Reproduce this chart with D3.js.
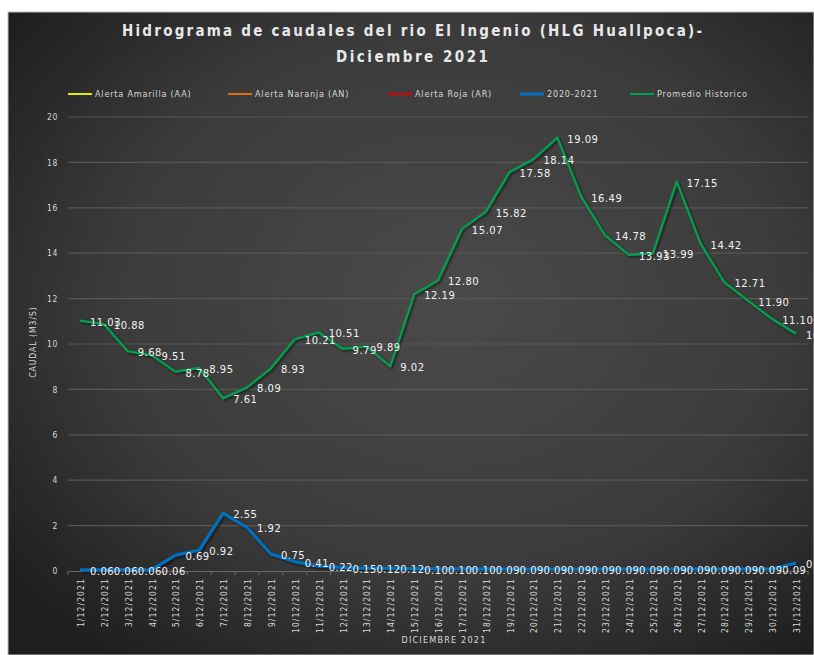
<!DOCTYPE html>
<html><head><meta charset="utf-8">
<script src="https://cdn.jsdelivr.net/npm/d3@7/dist/d3.min.js"></script>
<style>body{margin:0;background:#ffffff}svg{display:block}</style>
</head>
<body><svg id="chart" width="814" height="655"></svg>
<script>
// ---- DATA ----
const categories = ["1/12/2021","2/12/2021","3/12/2021","4/12/2021","5/12/2021","6/12/2021","7/12/2021","8/12/2021","9/12/2021","10/12/2021","11/12/2021","12/12/2021","13/12/2021","14/12/2021","15/12/2021","16/12/2021","17/12/2021","18/12/2021","19/12/2021","20/12/2021","21/12/2021","22/12/2021","23/12/2021","24/12/2021","25/12/2021","26/12/2021","27/12/2021","28/12/2021","29/12/2021","30/12/2021","31/12/2021"];
const promedioHistorico = [11.03,10.88,9.68,9.51,8.78,8.95,7.61,8.09,8.93,10.21,10.51,9.79,9.89,9.02,12.19,12.80,15.07,15.82,17.58,18.14,19.09,16.49,14.78,13.93,13.99,17.15,14.42,12.71,11.90,11.10,10.45];
const serie2020_2021 = [0.06,0.06,0.06,0.06,0.69,0.92,2.55,1.92,0.75,0.41,0.22,0.15,0.12,0.12,0.10,0.10,0.10,0.09,0.09,0.09,0.09,0.09,0.09,0.09,0.09,0.09,0.09,0.09,0.09,0.09,0.35];
const alertaAmarilla = [];
const alertaNaranja = [];
const alertaRoja = [];
const yTicks = [0,2,4,6,8,10,12,14,16,18,20];
const legendNames = ["Alerta Amarilla (AA)","Alerta Naranja (AN)","Alerta Roja (AR)","2020-2021","Promedio Historico"];
const legendColors = ["#e6e600","#e36c0a","#e00000","#0070c0","#00a050"];
const titleLines = ["Hidrograma de caudales del rio El Ingenio (HLG Huallpoca)-","Diciembre 2021"];
const yAxisTitle = "CAUDAL (M3/S)";
const xAxisTitle = "DICIEMBRE 2021";

// ---- LAYOUT ----
const W = 814, H = 655;
const plot = {left: 68, right: 808, top: 117, bottom: 571};
const FONT = "'DejaVu Sans Condensed','DejaVu Sans',sans-serif";

const svg = d3.select("#chart");
const defs = svg.append("defs");
const grad = defs.append("radialGradient").attr("id","bg")
  .attr("cx","55%").attr("cy","45%").attr("r","70%");
grad.append("stop").attr("offset","0%").attr("stop-color","#4a4a4a");
grad.append("stop").attr("offset","60%").attr("stop-color","#3b3b3b");
grad.append("stop").attr("offset","100%").attr("stop-color","#1e1e1e");
const sh = defs.append("filter").attr("id","shadow").attr("x","-10%").attr("y","-10%").attr("width","120%").attr("height","130%");
sh.append("feDropShadow").attr("dx",1.5).attr("dy",1.5).attr("stdDeviation",1.2).attr("flood-color","#000").attr("flood-opacity",0.6);

svg.append("rect").attr("x",8).attr("y",12).attr("width",W-8).attr("height",H-12)
  .attr("fill","url(#bg)").attr("stroke","#bfbfbf").attr("stroke-width",1);

const x = d3.scaleBand().domain(categories).range([plot.left, plot.right]);
const cx = d => x(d) + x.bandwidth()/2;
const y = d3.scaleLinear().domain([0,20]).range([plot.bottom, plot.top]);

// gridlines
svg.append("g").selectAll("line").data(yTicks.filter(t=>t>0)).join("line")
  .attr("x1",plot.left).attr("x2",plot.right)
  .attr("y1",d=>y(d)).attr("y2",d=>y(d))
  .attr("stroke","#575757").attr("stroke-width",1.2);

// y axis labels
const yAxis = d3.axisLeft(y).tickValues(yTicks).tickSize(0).tickPadding(10);
const yg = svg.append("g").attr("transform",`translate(${plot.left},0)`).call(yAxis);
yg.select(".domain").remove();
yg.selectAll("text").attr("fill","#d9d9d9").style("font-family",FONT).style("font-size","8.5px").style("letter-spacing","0.6px");

// x axis
const xAxis = d3.axisBottom(x).tickSize(0).tickPadding(6);
const xg = svg.append("g").attr("transform",`translate(0,${plot.bottom})`).call(xAxis);
xg.select(".domain").attr("stroke","#6a6a6a").attr("stroke-width",1.2);
xg.selectAll("text").attr("fill","#d9d9d9").style("font-family",FONT).style("font-size","8.5px").style("letter-spacing","1.1px")
  .attr("transform","rotate(-90)").attr("text-anchor","end").attr("dy","0.35em").attr("x",-7).attr("y",1);
// tick marks between categories
svg.append("g").selectAll("line").data(categories.concat(["end"])).join("line")
  .attr("x1",(d,i)=>plot.left + i*x.step()).attr("x2",(d,i)=>plot.left + i*x.step())
  .attr("y1",plot.bottom).attr("y2",plot.bottom+4)
  .attr("stroke","#6a6a6a").attr("stroke-width",1);

// lines
const line = d3.line().x((d,i)=>cx(categories[i])).y(d=>y(d));
svg.append("path").datum(promedioHistorico).attr("d",line)
  .attr("fill","none").attr("stroke",legendColors[4]).attr("stroke-width",2.25)
  .attr("stroke-linejoin","round").attr("filter","url(#shadow)");
svg.append("path").datum(serie2020_2021).attr("d",line)
  .attr("fill","none").attr("stroke",legendColors[3]).attr("stroke-width",3)
  .attr("stroke-linejoin","round").attr("filter","url(#shadow)");

// data labels
const fmt = d3.format(".2f");
function labels(data){
  svg.append("g").selectAll("text").data(data).join("text")
    .attr("x",(d,i)=>cx(categories[i])+10).attr("y",d=>y(d)+1.5)
    .attr("dy","0.35em")
    .attr("fill","#f2f2f2").style("font-family","'DejaVu Sans',sans-serif").style("font-size","10px")
    .style("letter-spacing","0.5px")
    .text(d=>fmt(d));
}
labels(promedioHistorico);
labels(serie2020_2021);

// title
svg.append("g").selectAll("text").data(titleLines).join("text")
  .attr("x",412).attr("y",(d,i)=>36+i*26)
  .attr("text-anchor","middle")
  .attr("fill","#e8e8e8").style("font-family",FONT).style("font-size","15px").style("font-weight","bold")
  .attr("textLength",(d,i)=>i===0?580:152).attr("lengthAdjust","spacing")
  .text(d=>d);

// legend
const legX = [68,228,388,520,630];
const lg = svg.append("g").selectAll("g").data(legendNames).join("g")
  .attr("transform",(d,i)=>`translate(${legX[i]},94)`);
lg.append("line").attr("x1",0).attr("x2",24).attr("y1",0).attr("y2",0)
  .attr("stroke",(d,i)=>legendColors[i]).attr("stroke-width",(d,i)=>i===3?3:2);
lg.append("text").attr("x",27).attr("y",0).attr("dy","0.35em")
  .attr("fill","#d9d9d9").style("font-family",FONT).style("font-size","9px").style("letter-spacing","0.8px")
  .text(d=>d);

// axis titles
svg.append("text").attr("transform","translate(36,342) rotate(-90)")
  .attr("text-anchor","middle").attr("fill","#d9d9d9")
  .style("font-family",FONT).style("font-size","8.5px").style("letter-spacing","1px").text(yAxisTitle);
svg.append("text").attr("x",444).attr("y",643)
  .attr("text-anchor","middle").attr("fill","#d9d9d9")
  .style("font-family",FONT).style("font-size","9px").style("letter-spacing","1.2px").text(xAxisTitle);
</script>
</body></html>
